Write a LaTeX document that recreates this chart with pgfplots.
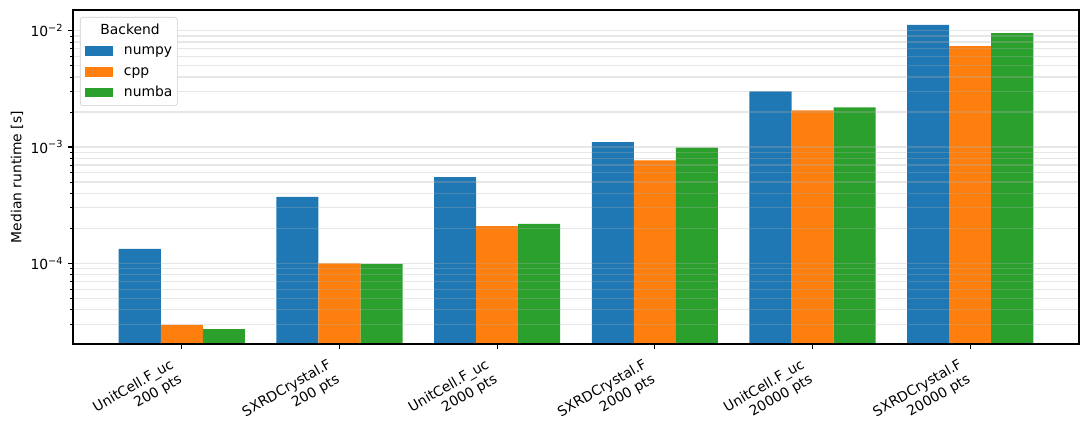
\documentclass[border=0pt]{standalone}
\usepackage{pgfplots}
\pgfplotsset{compat=1.18}
\usepackage{fontspec}
\setmainfont{DejaVu Sans}
\definecolor{c1}{HTML}{1F77B4}
\definecolor{c2}{HTML}{FF7F0E}
\definecolor{c3}{HTML}{2CA02C}
\definecolor{gridc}{HTML}{B0B0B0}
\definecolor{legc}{HTML}{CCCCCC}
\begin{document}
\begin{tikzpicture}
\begin{axis}[
  scale only axis, width=724.3pt, height=240.5pt,
  ymode=log, log origin=infty,
  xmin=-0.69, xmax=5.69, ymin=2.02e-5, ymax=1.507e-2,
  ybar, bar width=0.26667,
  axis on top,
  axis line style={line width=0.8pt},
  tick pos=left, tick align=outside,
  major tick length=3.5pt, minor tick length=2pt,
  every tick/.style={black, line width=0.8pt},
  every minor tick/.style={black, line width=0.6pt},
  xtick={0,1,2,3,4,5},
  xticklabels={{UnitCell.F\_uc\\200 pts},{SXRDCrystal.F\\200 pts},{UnitCell.F\_uc\\2000 pts},{SXRDCrystal.F\\2000 pts},{UnitCell.F\_uc\\20000 pts},{SXRDCrystal.F\\20000 pts}},
  xticklabel style={font=\fontsize{10}{12}\selectfont, align=right, inner sep=0pt, rotate=30, anchor=north east, xshift=-11pt, yshift=-1pt},
  ytick={1e-4,1e-3,1e-2},
  yticklabels={10\textsuperscript{−4},10\textsuperscript{−3},10\textsuperscript{−2}},
  minor ytick={2e-5,3e-5,4e-5,5e-5,6e-5,7e-5,8e-5,9e-5,2e-4,3e-4,4e-4,5e-4,6e-4,7e-4,8e-4,9e-4,2e-3,3e-3,4e-3,5e-3,6e-3,7e-3,8e-3,9e-3},
  yticklabel style={font=\fontsize{10}{12}\selectfont},
  ymajorgrids, yminorgrids,
  major grid style={gridc, opacity=0.3, line width=0.8pt},
  minor grid style={gridc, opacity=0.3, line width=0.8pt},
  ylabel={Median runtime [s]},
  ylabel style={at={(axis description cs:-0.0557,0.5)}, anchor=center, font=\fontsize{10}{12}\selectfont},
  legend style={at={(0,1)}, anchor=north west, xshift=5pt, yshift=-5pt,
    draw=legc, rounded corners=2pt, fill=white, inner xsep=3.5pt, inner ysep=4.8pt,
    row sep=5.5pt, column sep=8pt, font=\fontsize{10}{12}\selectfont,
    nodes={inner sep=0pt, text height=7.4pt, text depth=2pt}},
  legend cell align=left,
]
\addlegendimage{empty legend}
\addlegendentry{\hspace*{-17pt}Backend}
\addplot[fill=c1, draw=none, bar shift=-0.26667,
  legend image code/.code={\fill[c1, sharp corners] (0pt,-3.5pt) rectangle (20pt,3.5pt);}]
  coordinates {(0,1.33e-4) (1,3.72e-4) (2,5.52e-4) (3,1.10e-3) (4,3.01e-3) (5,1.12e-2)};
\addlegendentry{numpy}
\addplot[fill=c2, draw=none, bar shift=0,
  legend image code/.code={\fill[c2, sharp corners] (0pt,-3.5pt) rectangle (20pt,3.5pt);}]
  coordinates {(0,2.95e-5) (1,1.00e-4) (2,2.09e-4) (3,7.69e-4) (4,2.07e-3) (5,7.38e-3)};
\addlegendentry{cpp}
\addplot[fill=c3, draw=none, bar shift=0.26667,
  legend image code/.code={\fill[c3, sharp corners] (0pt,-3.5pt) rectangle (20pt,3.5pt);}]
  coordinates {(0,2.72e-5) (1,9.87e-5) (2,2.18e-4) (3,9.90e-4) (4,2.19e-3) (5,9.55e-3)};
\addlegendentry{numba}
\end{axis}
\pgfresetboundingbox
\path (current axis.south west) ++(-52.56pt,-69.12pt) coordinate (bl);
\path (current axis.north east) ++(7.2pt,7.2pt) coordinate (tr);
\path[use as bounding box] (bl) rectangle (tr);
\end{tikzpicture}
\end{document}
